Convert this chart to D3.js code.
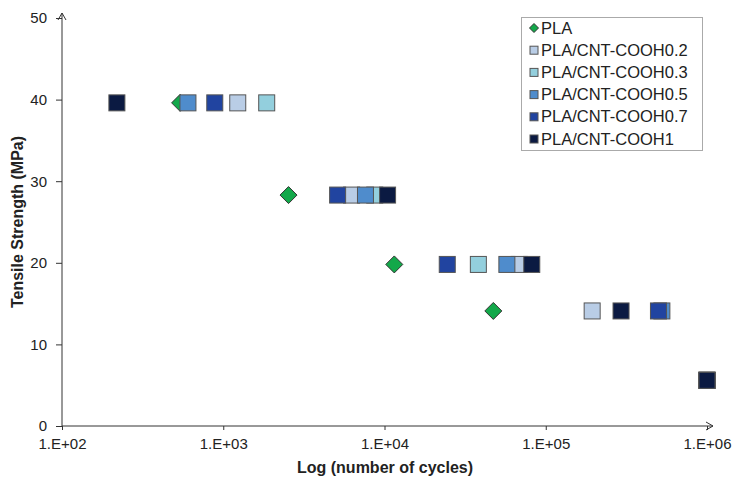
<!DOCTYPE html>
<html>
<head>
<meta charset="utf-8">
<script src="https://cdn.jsdelivr.net/npm/d3@7"></script>
<style>
  body { margin: 0; background: #fff; }
  text { font-family: "Liberation Sans", Arial, sans-serif; fill: #222; }
</style>
</head>
<body>
<div id="chart"></div>
<script>
var width = 737;
var height = 479;

// ======= data ========
var series = ["PLA", "PLA/CNT-COOH0.2", "PLA/CNT-COOH0.3", "PLA/CNT-COOH0.5", "PLA/CNT-COOH0.7", "PLA/CNT-COOH1"];
var strength = [39.6, 28.3, 19.8, 14.1, 5.6];
// null = no point at that stress level
var cyclesPLA = [540, 2540, 11500, 47300, null];
var cycles02 = [1230, 6250, 68500, 194000, 1000000];
var cycles03 = [1860, 8700, 38200, null, 1000000];
var cycles05 = [604, 7620, 57400, 525000, 1000000];
var cycles07 = [886, 5120, 24500, 500000, 1000000];
var cycles1 = [219, 10450, 81900, 293000, 1000000];
var xTicks = [1e2, 1e3, 1e4, 1e5, 1e6];
var xTickLabels = ["1.E+02", "1.E+03", "1.E+04", "1.E+05", "1.E+06"];
var yTicks = [0, 10, 20, 30, 40, 50];

var colors = ["#13a84a", "#b9cde6", "#93cfdd", "#4f8ccc", "#2144a0", "#0b1a42"];
var allCycles = [cyclesPLA, cycles02, cycles03, cycles05, cycles07, cycles1];

var svg = d3.select("#chart")
  .append("svg")
    .attr("width", width)
    .attr("height", height);

var x = d3.scaleLog()
    .domain([1e2, 1e6])
    .range([62, 707]);

var y = d3.scaleLinear()
    .domain([0, 50])
    .range([426, 18]);

// ======= axes ========
var xAxis = svg.append("g")
    .attr("transform", "translate(0," + y(0) + ")")
    .call(d3.axisBottom(x).tickValues(xTicks).tickFormat(function(d, i) { return xTickLabels[i]; }).tickSizeOuter(0).tickSize(4));

var yAxis = svg.append("g")
    .attr("transform", "translate(" + x(1e2) + ",0)")
    .call(d3.axisLeft(y).tickValues(yTicks).tickSizeOuter(0).tickSize(6));

xAxis.select(".domain").attr("d", "M" + x(1e2) + ",0H713").attr("stroke", "#333");
yAxis.select(".domain").attr("d", "M0," + y(0) + "V13").attr("stroke", "#333");
svg.selectAll(".tick line").attr("stroke", "#333");
xAxis.selectAll(".tick text").attr("y", 10).attr("dy", "0.85em").style("font-size", "15px");
yAxis.selectAll(".tick text").attr("x", -15).style("font-size", "15px");

// arrow heads
svg.append("path")
    .attr("d", "M" + (x(1e2) - 4) + ",20L" + x(1e2) + ",13L" + (x(1e2) + 4) + ",20")
    .attr("fill", "none").attr("stroke", "#333");
svg.append("path")
    .attr("d", "M706," + (y(0) - 4) + "L713," + y(0) + "L706," + (y(0) + 4))
    .attr("fill", "none").attr("stroke", "#333");

svg.append("text")
    .attr("x", 385).attr("y", 473)
    .attr("text-anchor", "middle")
    .style("font-size", "16px").style("font-weight", "bold")
    .text("Log (number of cycles)");

svg.append("text")
    .attr("transform", "translate(23," + y(25) + ") rotate(-90)")
    .attr("text-anchor", "middle")
    .style("font-size", "16px").style("font-weight", "bold")
    .text("Tensile Strength (MPa)");

// ======= points ========
var sq = 16;
allCycles.forEach(function(c, s) {
  var pts = c.map(function(v, i) { return {x: v, y: strength[i]}; })
      .filter(function(d) { return d.x !== null; });
  var g = svg.append("g");
  if (s === 0) {
    g.selectAll("path").data(pts).enter().append("path")
        .attr("d", function(d) {
          var cx = x(d.x), cy = y(d.y), r = 8.5;
          return "M" + cx + "," + (cy - r) + "L" + (cx + r) + "," + cy + "L" + cx + "," + (cy + r) + "L" + (cx - r) + "," + cy + "Z";
        })
        .attr("fill", colors[s])
        .attr("stroke", "#333").attr("stroke-width", 1);
  } else {
    g.selectAll("rect").data(pts).enter().append("rect")
        .attr("x", function(d) { return x(d.x) - sq / 2; })
        .attr("y", function(d) { return y(d.y) - sq / 2; })
        .attr("width", sq).attr("height", sq)
        .attr("fill", colors[s])
        .attr("stroke", "#555").attr("stroke-width", 1);
  }
});

// ======= legend ========
var legend = svg.append("g");
legend.append("rect")
    .attr("x", 521.5).attr("y", 17.5).attr("width", 181).attr("height", 133)
    .attr("fill", "#fff").attr("stroke", "#aaa");

series.forEach(function(name, i) {
  var ly = 28 + i * 22.2;
  if (i === 0) {
    legend.append("path")
        .attr("d", "M534," + (ly - 4.5) + "L538.5," + ly + "L534," + (ly + 4.5) + "L529.5," + ly + "Z")
        .attr("fill", colors[i]).attr("stroke", "#333");
  } else {
    legend.append("rect")
        .attr("x", 530).attr("y", ly - 4).attr("width", 8).attr("height", 8)
        .attr("fill", colors[i]).attr("stroke", "#555");
  }
  legend.append("text")
      .attr("x", 541).attr("y", ly + 5.5)
      .style("font-size", "16.5px")
      .text(name);
});
</script>
</body>
</html>
